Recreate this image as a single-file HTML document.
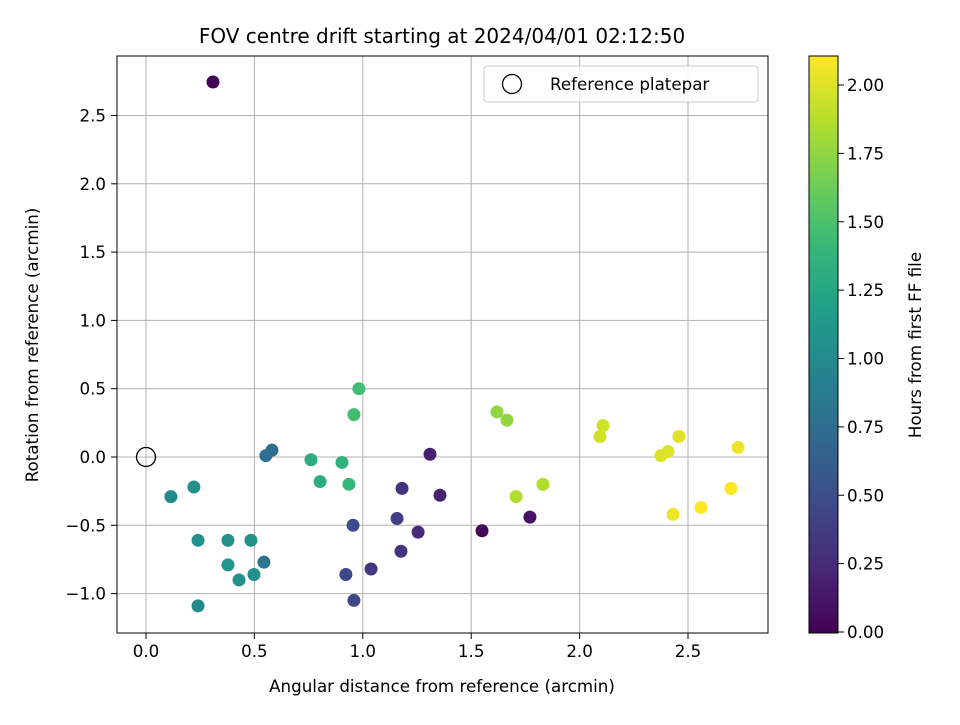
<!DOCTYPE html>
<html><head><meta charset="utf-8">
<style>
body{margin:0;background:#fff;}
svg{font-family:"DejaVu Sans","Liberation Sans",sans-serif;}
</style></head>
<body>
<svg id="chart" width="960" height="720" xmlns="http://www.w3.org/2000/svg">
<rect width="960" height="720" fill="#fff"/>
<text x="442" y="43" text-anchor="middle" font-size="20">FOV centre drift starting at 2024/04/01 02:12:50</text>
<g id="grid"></g>
<g id="points"></g>
<rect x="117" y="56" width="651" height="577" fill="none" stroke="#000" stroke-width="1"/>
<g id="axes"></g>
<text x="442" y="692" text-anchor="middle" font-size="16.7">Angular distance from reference (arcmin)</text>
<text transform="translate(38,345) rotate(-90)" text-anchor="middle" font-size="16.7">Rotation from reference (arcmin)</text>
<g>
<rect x="484" y="66" width="274" height="36" rx="3" fill="#fff" fill-opacity="0.8" stroke="#ccc"/>
<circle cx="512" cy="84" r="9.5" fill="none" stroke="#000" stroke-width="1.3"/>
<text x="550" y="90" font-size="16.7">Reference platepar</text>
</g>
<defs><linearGradient id="vir" x1="0" y1="1" x2="0" y2="0"></linearGradient></defs>
<rect x="809" y="56" width="29" height="577" fill="url(#vir)" stroke="#000"/>
<g id="cbticks"></g>
<text transform="translate(921,345) rotate(-90)" text-anchor="middle" font-size="16.7">Hours from first FF file</text>
</svg>
<script>
const xs=[0.309,0.115,0.221,0.24,0.24,0.378,0.378,0.429,0.484,0.498,0.544,0.553,0.581,0.761,0.803,0.904,0.936,0.959,0.982,0.955,0.922,0.959,1.038,1.158,1.176,1.181,1.255,1.31,1.356,1.55,1.771,1.619,1.665,1.707,1.831,2.094,2.108,2.375,2.408,2.431,2.458,2.56,2.698,2.731];
const ys=[2.745,-0.29,-0.22,-0.61,-1.09,-0.61,-0.79,-0.90,-0.61,-0.86,-0.77,0.01,0.05,-0.02,-0.18,-0.04,-0.20,0.31,0.50,-0.50,-0.86,-1.05,-0.82,-0.45,-0.69,-0.23,-0.55,0.02,-0.28,-0.54,-0.44,0.33,0.27,-0.29,-0.20,0.15,0.23,0.01,0.04,-0.42,0.15,-0.37,-0.23,0.07];
const hours=[0.0,1.0,1.05,1.05,1.0,1.05,1.1,1.05,1.05,1.05,0.8,0.75,0.75,1.3,1.3,1.35,1.4,1.45,1.45,0.5,0.45,0.45,0.35,0.4,0.3,0.3,0.25,0.2,0.2,0.05,0.1,1.75,1.75,1.85,1.85,1.95,1.95,2.0,2.0,2.05,2.0,2.1,2.1,2.05];
const xTicks=[0,0.5,1.0,1.5,2.0,2.5];
const yTicks=[-1.0,-0.5,0.0,0.5,1.0,1.5,2.0,2.5];
const cTicks=[0,0.25,0.5,0.75,1.0,1.25,1.5,1.75,2.0];
const refPoint=[0,0];
const X=v=>146+v*216.8, Y=v=>457-v*136.6, C=v=>632-v*273.5, HMAX=2.1;
const vir=["#440154","#482878","#3e4989","#31688e","#26828e","#1f9e89","#35b779","#6ece58","#b5de2b","#fde725"];
function hex(h){return [1,3,5].map(i=>parseInt(h.substr(i,2),16));}
function cmap(t){t=Math.max(0,Math.min(1,t))*(vir.length-1);const i=Math.min(Math.floor(t),vir.length-2),f=t-i;const a=hex(vir[i]),b=hex(vir[i+1]);return `rgb(${a.map((v,k)=>Math.round(v+(b[k]-v)*f)).join(',')})`;}
const NS="http://www.w3.org/2000/svg";
function mk(tag,attrs,parent,txt){const e=document.createElementNS(NS,tag);for(const k in attrs)e.setAttribute(k,attrs[k]);if(txt!==undefined)e.textContent=txt;parent.appendChild(e);return e;}
const grad=document.getElementById('vir');
vir.forEach((c,i)=>mk('stop',{offset:(i/(vir.length-1)*100)+'%','stop-color':c},grad));
const grid=document.getElementById('grid'),axes=document.getElementById('axes');
xTicks.forEach(t=>{
 const gl=mk('line',{x1:X(t),x2:X(t),y1:56,y2:633,stroke:'#b0b0b0','stroke-width':1},grid);
 
 
 mk('line',{x1:X(t),x2:X(t),y1:633,y2:639,stroke:'#000'},axes);
 const tx=mk('text',{x:X(t),y:657,'text-anchor':'middle','font-size':16.7},axes,t.toFixed(1));
 
 
});
yTicks.forEach(t=>{
 const gl=mk('line',{x1:117,x2:768,y1:Y(t),y2:Y(t),stroke:'#b0b0b0','stroke-width':1},grid);
 
 
 mk('line',{x1:111,x2:117,y1:Y(t),y2:Y(t),stroke:'#000'},axes);
 const tx=mk('text',{x:106,y:Y(t)+6,'text-anchor':'end','font-size':16.7},axes,(t<0?'\u2212':'')+Math.abs(t).toFixed(1));
 
 
});
const cb=document.getElementById('cbticks');
cTicks.forEach(t=>{
 mk('line',{x1:838,x2:844,y1:C(t),y2:C(t),stroke:'#000'},cb);
 const tx=mk('text',{x:847,y:C(t)+6,'font-size':16.7},cb,t.toFixed(2));
 
 
});
const pts=document.getElementById('points');
xs.forEach((x,i)=>{
 const c=mk('circle',{cx:X(x),cy:Y(ys[i]),r:6.5,fill:cmap(hours[i]/HMAX)},pts);
 
 
});
const r=mk('circle',{cx:X(refPoint[0]),cy:Y(refPoint[1]),r:9.5,fill:'none',stroke:'#000','stroke-width':1.3},pts);


</script>
</body></html>
